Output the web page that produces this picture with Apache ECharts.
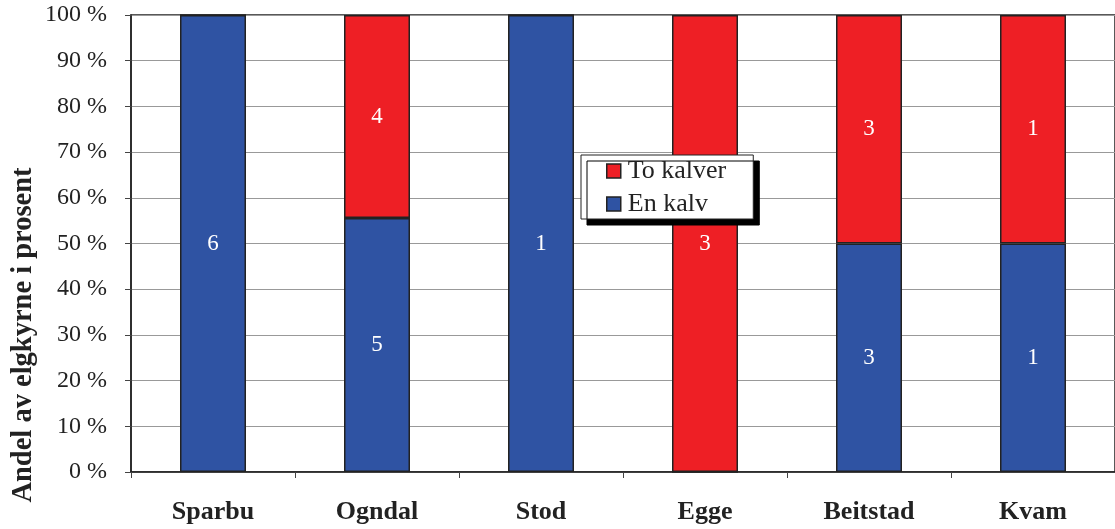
<!DOCTYPE html>
<html><head><meta charset="utf-8">
<script src="https://cdn.jsdelivr.net/npm/echarts@6/dist/echarts.min.js"></script>
<style>html,body{margin:0;padding:0;background:#fff}#c{width:1115px;height:529px}</style>
</head><body><div id="c"></div>
<script>
var categories = ['Sparbu', 'Ogndal', 'Stod', 'Egge', 'Beitstad', 'Kvam'];
var enKalv = [6, 5, 1, 0, 3, 1];
var toKalver = [0, 4, 0, 3, 3, 1];
var yTicks = [0, 10, 20, 30, 40, 50, 60, 70, 80, 90, 100];

var F = '"Liberation Serif", "Times New Roman", serif';
function pct(arr) {
  return arr.map(function (v, i) {
    var tot = enKalv[i] + toKalver[i];
    return { value: v / tot * 100, count: v };
  });
}
var chart = echarts.init(document.getElementById('c'), null, { renderer: 'canvas' });
var labelCfg = {
  show: true, position: 'inside', color: '#fff', fontFamily: F, fontSize: 23,
  formatter: function (p) { return p.data.count > 0 ? String(p.data.count) : ''; }
};
chart.setOption({
  animation: false,
  grid: { left: 131, right: -6, top: 15, bottom: 57, show: true, borderColor: '#222', borderWidth: 1.5, backgroundColor: 'transparent' },
  legend: {
    data: ['To kalver', 'En kalv'], orient: 'vertical', left: 581, top: 155,
    backgroundColor: '#fff', borderColor: '#222', borderWidth: 1,
    shadowColor: '#000', shadowOffsetX: 6, shadowOffsetY: 6, shadowBlur: 0,
    padding: [3, 27, 2, 25], itemGap: 7, itemWidth: 14, itemHeight: 14, icon: 'rect',
    itemStyle: { borderColor: '#222', borderWidth: 1.5 },
    textStyle: { fontFamily: F, fontSize: 26, lineHeight: 26, color: '#222', padding: [0, 0, 0, 2] }
  },
  xAxis: {
    type: 'category', data: categories,
    axisLine: { lineStyle: { color: '#222', width: 1.5 } },
    axisTick: { show: true, length: 6, lineStyle: { color: '#444' } },
    axisLabel: { fontFamily: F, fontSize: 26, fontWeight: 'bold', color: '#222', margin: 27 }
  },
  yAxis: {
    type: 'value', min: 0, max: 100, interval: 10,
    axisLine: { show: true, lineStyle: { color: '#222', width: 1.5 } },
    axisTick: { show: true, length: 6, lineStyle: { color: '#444' } },
    splitLine: { lineStyle: { color: '#999', width: 1 } },
    axisLabel: {
      fontFamily: F, fontSize: 24, color: '#222', margin: 24,
      formatter: function (v) { return yTicks.indexOf(v) >= 0 ? v + ' %' : ''; }
    }
  },
  graphic: [{
    type: 'text', x: 24, y: 335, rotation: Math.PI / 2,
    style: { text: 'Andel av elgkyrne i prosent', fontFamily: F, fontSize: 28.5, fontWeight: 'bold', fill: '#222', align: 'center', verticalAlign: 'middle' }
  }],
  series: [
    { name: 'En kalv', type: 'bar', stack: 's', barWidth: 66, data: pct(enKalv),
      itemStyle: { color: '#2F53A3', borderColor: '#222', borderWidth: 1.5 }, label: labelCfg },
    { name: 'To kalver', type: 'bar', stack: 's', barWidth: 66, data: pct(toKalver),
      itemStyle: { color: '#EE1F25', borderColor: '#222', borderWidth: 1.5 }, label: labelCfg }
  ]
});
</script></body></html>
